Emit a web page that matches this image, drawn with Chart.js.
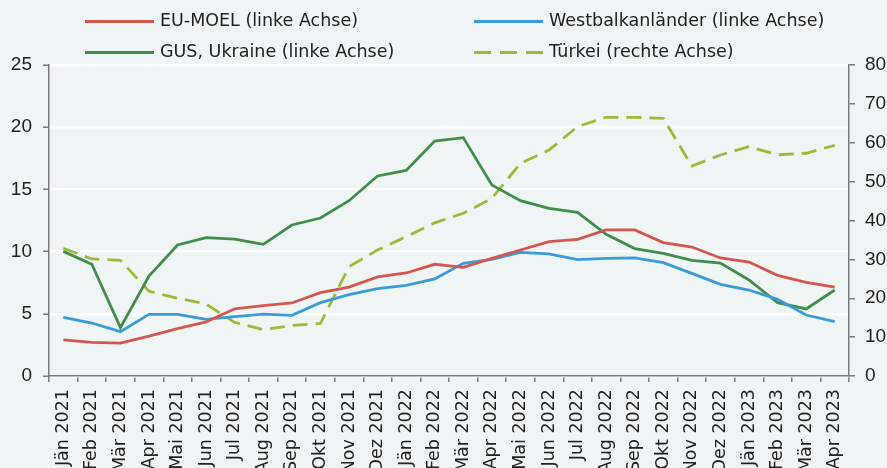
<!DOCTYPE html>
<html><head><meta charset="utf-8">
<script src="https://cdn.jsdelivr.net/npm/chart.js@4.4.0/dist/chart.umd.min.js"></script>
<style>
html,body{margin:0;padding:0;background:#eff5f4;overflow:hidden;width:887px;height:468px;}
#wrap{position:relative;width:887px;height:468px;overflow:hidden;}
canvas{position:absolute;left:0;top:0;}
.lg{position:absolute;font-family:"DejaVu Sans",sans-serif;font-size:17.5px;color:#222;line-height:20px;white-space:nowrap;}
.sw{position:absolute;height:0;width:69px;}
</style></head>
<body><div id="wrap"><canvas id="c" width="887" height="540"></canvas><div id="legend"></div></div>
<script>
const categories = ["Jän 2021","Feb 2021","Mär 2021","Apr 2021","Mai 2021","Jun 2021","Jul 2021","Aug 2021","Sep 2021","Okt 2021","Nov 2021","Dez 2021","Jän 2022","Feb 2022","Mär 2022","Apr 2022","Mai 2022","Jun 2022","Jul 2022","Aug 2022","Sep 2022","Okt 2022","Nov 2022","Dez 2022","Jän 2023","Feb 2023","Mär 2023","Apr 2023"];
const euMoel = [2.9,2.7,2.65,3.2,3.8,4.35,5.4,5.65,5.87,6.7,7.15,7.96,8.28,8.98,8.74,9.46,10.13,10.8,10.99,11.74,11.74,10.72,10.37,9.49,9.16,8.09,7.53,7.15];
const westbalkan = [4.72,4.26,3.56,4.96,4.96,4.56,4.77,4.98,4.88,5.9,6.54,7.02,7.29,7.8,9.06,9.38,9.94,9.81,9.35,9.46,9.49,9.11,8.25,7.37,6.91,6.16,4.9,4.37];
const gusUkraine = [10.02,8.98,3.89,8.04,10.53,11.12,11.01,10.58,12.14,12.7,14.09,16.08,16.53,18.89,19.16,15.35,14.09,13.48,13.16,11.39,10.24,9.86,9.3,9.08,7.72,5.89,5.39,6.91];
const tuerkei = [32.85,30.1,29.76,21.8,20.0,18.5,13.8,11.9,13.0,13.5,28.1,32.4,35.85,39.4,41.85,45.7,54.7,58.1,64.15,66.55,66.55,66.3,54.0,56.86,59.0,56.9,57.3,59.35];
const leftTicks = [0,5,10,15,20,25];
const rightTicks = [0,10,20,30,40,50,60,70,80];
const seriesNames = ["EU-MOEL (linke Achse)","Westbalkanländer (linke Achse)","GUS, Ukraine (linke Achse)","Türkei (rechte Achse)"];

const C_RED="#d5564f", C_BLUE="#3a9bd9", C_GREEN="#3f8f4b", C_OLIVE="#9cba3a";
const AX="#7a7a7a";
const tickFont={family:"Liberation Sans, Arial, sans-serif", size:19};

const datasets=[
 {label:seriesNames[0],data:euMoel,borderColor:C_RED,yAxisID:'yL'},
 {label:seriesNames[1],data:westbalkan,borderColor:C_BLUE,yAxisID:'yL'},
 {label:seriesNames[2],data:gusUkraine,borderColor:C_GREEN,yAxisID:'yL'},
 {label:seriesNames[3],data:tuerkei,borderColor:C_OLIVE,yAxisID:'yR',borderDash:[15,8]}
].map(d=>Object.assign({borderWidth:2.8,pointRadius:0,tension:0,fill:false},d));

new Chart(document.getElementById('c'),{
 type:'line',
 data:{labels:categories,datasets:datasets},
 options:{
  responsive:false,animation:false,
  layout:{padding:{top:65,left:0,right:0,bottom:0}},
  plugins:{legend:{display:false},tooltip:{enabled:false}},
  scales:{
   x:{offset:true,
      grid:{offset:true,drawOnChartArea:false,drawTicks:true,tickLength:6,tickColor:AX,lineWidth:1.5},
      border:{color:AX,width:1.5},
      ticks:{autoSkip:false,maxRotation:90,minRotation:90,color:"#222",padding:7,font:{family:"DejaVu Sans, sans-serif",size:17.5}},
      afterFit:s=>{s.height=540-376;}},
   yL:{position:'left',min:0,max:25,
      afterBuildTicks:s=>{s.ticks=leftTicks.map(v=>({value:v}));},
      grid:{color:"#ffffff",lineWidth:2.5,tickColor:AX,tickLength:6,tickWidth:1.5},
      border:{color:AX,width:1.5},
      ticks:{color:"#222",padding:11,font:tickFont},
      afterFit:s=>{s.width=49;}},
   yR:{position:'right',min:0,max:80,
      afterBuildTicks:s=>{s.ticks=rightTicks.map(v=>({value:v}));},
      grid:{drawOnChartArea:false,tickColor:AX,tickLength:6,lineWidth:1.5},
      border:{color:AX,width:1.5},
      ticks:{color:"#222",padding:10,font:tickFont},
      afterFit:s=>{s.width=887-849;}}
  }
 }
});

// legend (HTML)
const lg=document.getElementById('legend');
const pos=[[85,21],[474,21],[85,52],[474,52]];
const cols=[C_RED,C_BLUE,C_GREEN,C_OLIVE];
seriesNames.forEach((n,i)=>{
 const [x,y]=pos[i];
 const sw=document.createElement('div');
 sw.className='sw';
 sw.style.left=x+'px';sw.style.top=(y-1.5)+'px';
 if(i===3){
   sw.style.height='3px';
   sw.style.background='repeating-linear-gradient(90deg,'+cols[i]+' 0 17px,transparent 17px 26px)';}
 else sw.style.borderTop='3px solid '+cols[i];
 lg.appendChild(sw);
 const t=document.createElement('div');
 t.className='lg';t.textContent=n;
 t.style.left=(x+75)+'px';t.style.top=(y-11)+'px';
 lg.appendChild(t);
});
</script></body></html>
